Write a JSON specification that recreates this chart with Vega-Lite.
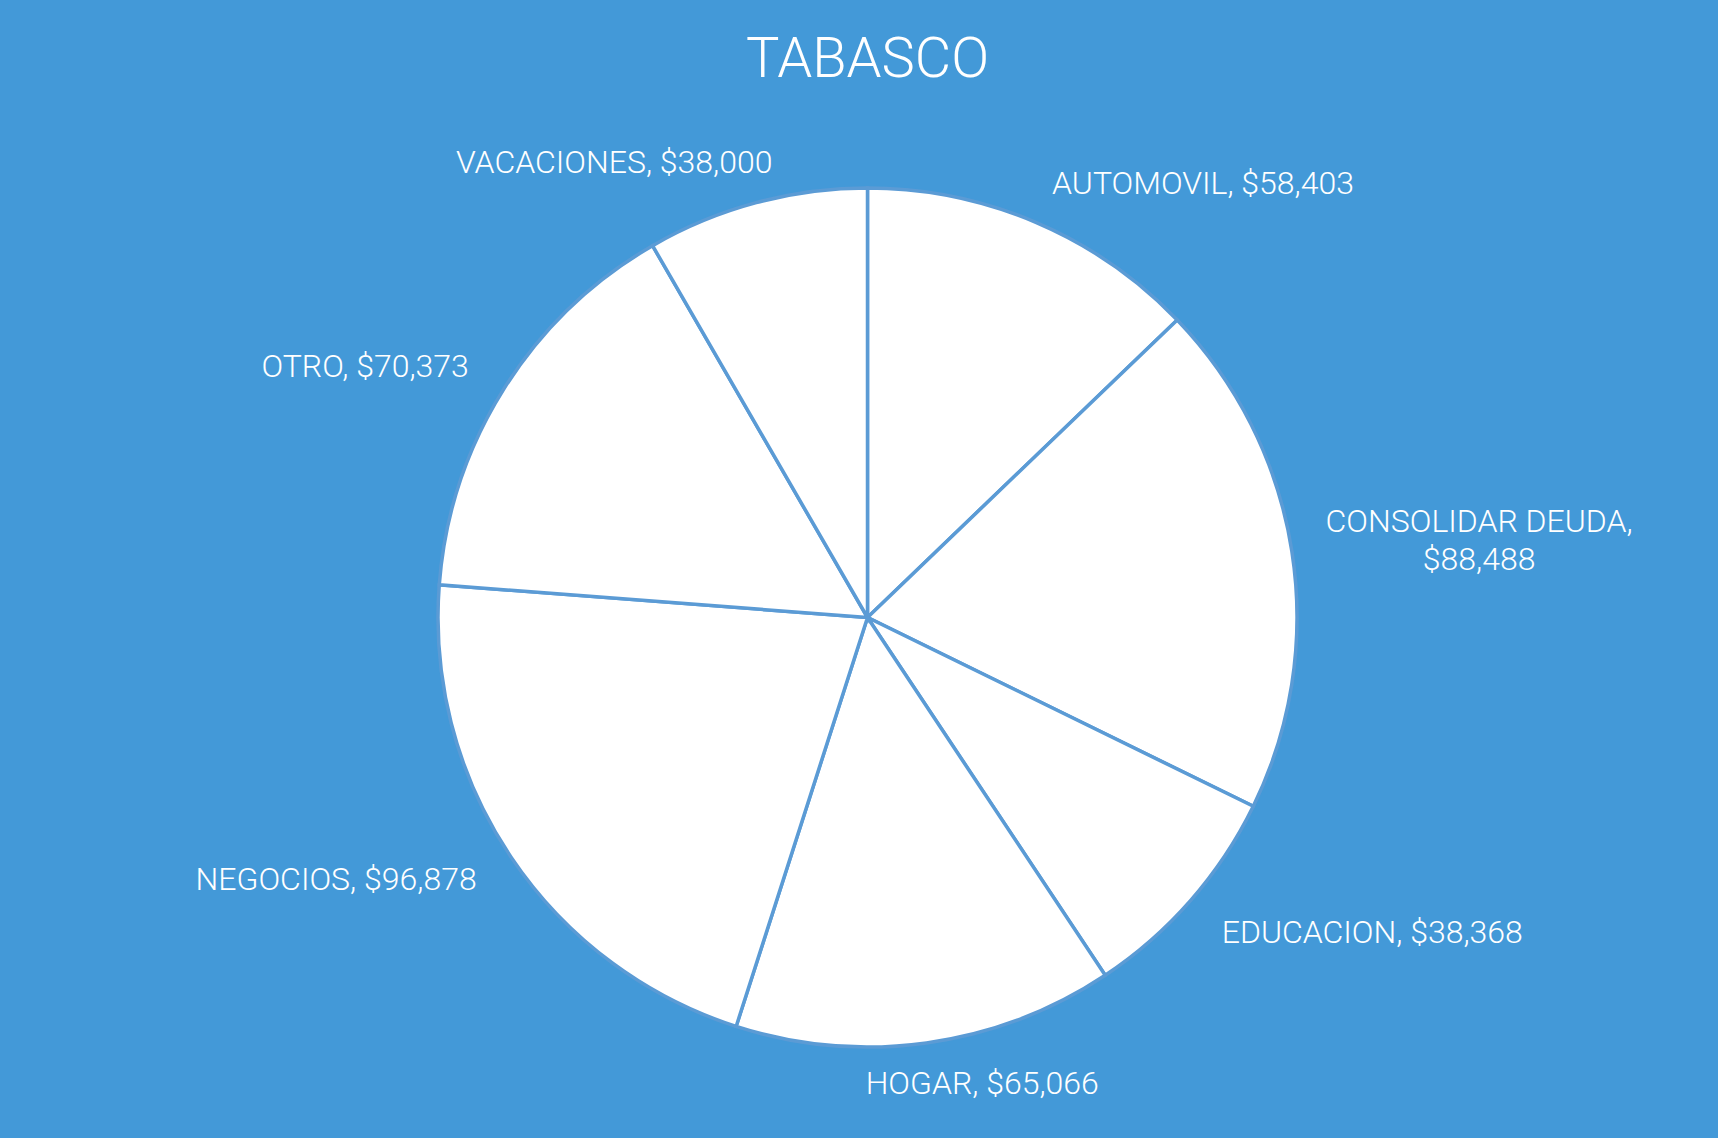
{
  "$schema": "https://vega.github.io/schema/vega-lite/v6.json",
  "autosize": {"type": "none"},
  "width": 859,
  "height": 859,
  "padding": {"left": 438, "top": 188, "right": 421, "bottom": 91},
  "background": "#4399D8",
  "title": {
    "text": "TABASCO",
    "fontSize": 56,
    "font": "Roboto",
    "fontWeight": 300,
    "color": "white",
    "anchor": "middle",
    "frame": "group",
    "offset": 58
  },
  "data": {
    "values": [
      {"categoria": "AUTOMOVIL", "monto": 58403, "orden": 1},
      {"categoria": "CONSOLIDAR DEUDA", "monto": 88488, "orden": 2},
      {"categoria": "EDUCACION", "monto": 38368, "orden": 3},
      {"categoria": "HOGAR", "monto": 65066, "orden": 4},
      {"categoria": "NEGOCIOS", "monto": 96878, "orden": 5},
      {"categoria": "OTRO", "monto": 70373, "orden": 6},
      {"categoria": "VACACIONES", "monto": 38000, "orden": 7}
    ]
  },
  "transform": [
    {"calculate": "datum.categoria == 'CONSOLIDAR DEUDA' ? [datum.categoria + ',', format(datum.monto, '$,')] : datum.categoria + ', ' + format(datum.monto, '$,')", "as": "etiqueta"}
  ],
  "encoding": {
    "theta": {"field": "monto", "type": "quantitative", "stack": true},
    "order": {"field": "orden", "type": "quantitative"}
  },
  "layer": [
    {
      "mark": {"type": "arc", "fill": "white", "stroke": "#5B9BD5", "strokeWidth": 3.5}
    },
    {
      "mark": {
        "type": "text",
        "radius": {"expr": "datum.categoria == 'CONSOLIDAR DEUDA' ? 619 : 471"},
        "align": {"expr": "(datum.categoria == 'CONSOLIDAR DEUDA' || datum.categoria == 'HOGAR') ? 'center' : (indexof(['NEGOCIOS','OTRO','VACACIONES'], datum.categoria) >= 0 ? 'right' : 'left')"},
        "dx": {"expr": "datum.categoria == 'HOGAR' ? 50 : (datum.categoria == 'VACACIONES' ? 27 : 0)"},
        "dy": {"expr": "datum.categoria == 'EDUCACION' ? 5 : 0"},
        "baseline": "middle",
        "font": "Roboto",
        "fontWeight": 300,
        "fontSize": 32,
        "lineHeight": 38,
        "fill": "white"
      },
      "encoding": {
        "text": {"field": "etiqueta"}
      }
    }
  ],
  "config": {"view": {"stroke": null}}
}
